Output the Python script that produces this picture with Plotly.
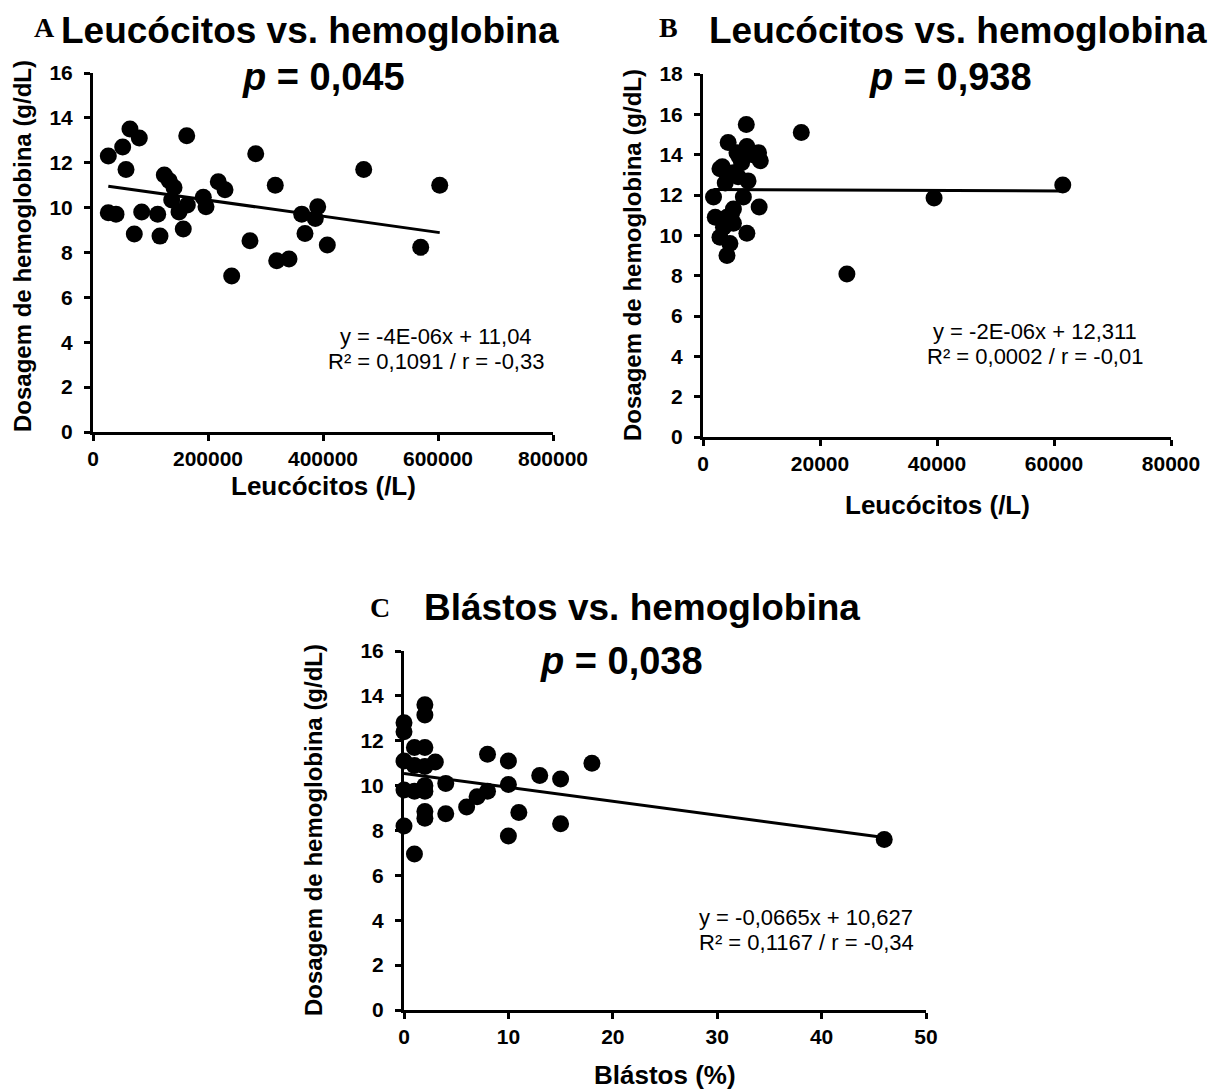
import numpy as np
import plotly.graph_objects as go

W, H = 1224, 1090          # reference picture size
OFF = 8                    # page body margin in the browser
FW, FH = W - OFF, H - OFF  # figure size so that it ends at the window edge

# ---------------- data ----------------
a_leuco = [26600, 64300, 80500, 51600, 57400, 163000, 283000, 124000, 132700, 140900,
           217900, 229600, 317000, 470800, 603000, 26600, 40000, 84700, 112500, 71800,
           116500, 157000, 136900, 149600, 164000, 191800, 196500, 363000, 390800, 386600,
           368700, 273000, 407500, 319500, 340900, 241200, 569900]
a_hb = [12.3, 13.5, 13.1, 12.7, 11.7, 13.2, 12.4, 11.45, 11.2, 10.9,
        11.15, 10.8, 11.0, 11.7, 11.0, 9.77, 9.71, 9.8, 9.7, 8.82,
        8.73, 9.05, 10.34, 9.8, 10.12, 10.46, 10.04, 9.71, 10.04, 9.52,
        8.85, 8.52, 8.33, 7.63, 7.71, 6.95, 8.23]

b_leuco = [7400, 4300, 7500, 9500, 9800, 5800, 6600, 2900, 5200, 3800,
           7700, 1800, 6900, 5200, 9600, 2100, 4100, 5200, 7500, 2900,
           4600, 4100, 8500, 6200, 3300, 6000, 4800, 3500,
           16800, 24600, 39500, 61500]
b_hb = [15.5, 14.6, 14.4, 14.1, 13.7, 14.1, 13.6, 13.3, 13.1, 12.6,
        12.7, 11.9, 11.9, 11.3, 11.4, 10.9, 10.9, 10.6, 10.1, 9.9,
        9.6, 9.0, 14.0, 13.9, 13.4, 12.9, 11.0, 10.4,
        15.1, 8.08, 11.85, 12.5]

c_blastos = [2, 2, 0, 0, 1, 2, 0, 1, 2, 3,
             4, 0, 1, 2, 2, 2, 2, 4, 6, 0,
             1, 8, 10, 13, 15, 18, 10, 8, 7, 11,
             15, 10, 46]
c_hb = [13.6, 13.15, 12.8, 12.4, 11.7, 11.7, 11.1, 10.9, 10.85, 11.05,
        10.1, 9.8, 9.75, 10.0, 9.75, 8.85, 8.55, 8.75, 9.05, 8.2,
        6.95, 11.4, 11.1, 10.45, 10.3, 11.0, 10.05, 9.75, 9.5, 8.8,
        8.3, 7.75, 7.6]

titles = ["Leucócitos vs. hemoglobina", "Leucócitos vs. hemoglobina", "Blástos vs. hemoglobina"]
letters = ["A", "B", "C"]
p_texts = ["0,045", "0,938", "0,038"]
eq_line1 = ["y = -4E-06x + 11,04", "y = -2E-06x + 12,311", "y = -0,0665x + 10,627"]
eq_line2 = ["R² = 0,1091 / r = -0,33", "R² = 0,0002 / r = -0,01", "R² = 0,1167 / r = -0,34"]
x_titles = ["Leucócitos (/L)", "Leucócitos (/L)", "Blástos (%)"]
y_title = "Dosagem de hemoglobina (g/dL)"

a_xticks = [0, 200000, 400000, 600000, 800000]
b_xticks = [0, 20000, 40000, 60000, 80000]
c_xticks = [0, 10, 20, 30, 40, 50]
a_yticks = [0, 2, 4, 6, 8, 10, 12, 14, 16]
b_yticks = [0, 2, 4, 6, 8, 10, 12, 14, 16, 18]
c_yticks = [0, 2, 4, 6, 8, 10, 12, 14, 16]

# ---------------- layout helpers ----------------
def px(x):
    return (x - OFF) / FW

def py(y):
    return 1 - (y - OFF) / FH

SANS = "Liberation Sans"
SERIF = "Liberation Serif"

fig = go.Figure()

panels = [
    dict(x=a_leuco, y=a_hb, xt=a_xticks, yt=a_yticks, xdom=(93, 553), ydom=(432, 73),
         xa="x", ya="y"),
    dict(x=b_leuco, y=b_hb, xt=b_xticks, yt=b_yticks, xdom=(703, 1171), ydom=(437, 74),
         xa="x2", ya="y2"),
    dict(x=c_blastos, y=c_hb, xt=c_xticks, yt=c_yticks, xdom=(404, 926), ydom=(1010, 651),
         xa="x3", ya="y3"),
]

for i, p in enumerate(panels):
    xs = np.array(p["x"], dtype=float)
    ys = np.array(p["y"], dtype=float)
    slope, intercept = np.polyfit(xs, ys, 1)
    lx = np.array([xs.min(), xs.max()])
    fig.add_trace(go.Scatter(x=lx, y=slope * lx + intercept, mode="lines",
                             line=dict(color="black", width=3),
                             xaxis=p["xa"], yaxis=p["ya"], showlegend=False,
                             hoverinfo="skip"))
    fig.add_trace(go.Scatter(x=xs, y=ys, mode="markers",
                             marker=dict(color="black", size=17),
                             xaxis=p["xa"], yaxis=p["ya"], showlegend=False,
                             cliponaxis=False))

axis_common = dict(showgrid=False, zeroline=False, showline=True, linecolor="black",
                   linewidth=3, ticks="outside", ticklen=6, tickwidth=2.5,
                   tickcolor="black",
                   tickfont=dict(family=SANS, size=21, color="black", weight="bold"))

layout_axes = {}
for i, p in enumerate(panels):
    suffix = "" if i == 0 else str(i + 1)
    layout_axes["xaxis" + suffix] = dict(
        axis_common,
        domain=[px(p["xdom"][0]), px(p["xdom"][1])],
        range=[p["xt"][0], p["xt"][-1]],
        tickmode="array", tickvals=p["xt"], ticktext=[str(v) for v in p["xt"]],
        anchor="y" + suffix, automargin=False,
    )
    layout_axes["yaxis" + suffix] = dict(
        axis_common,
        domain=[py(p["ydom"][0]), py(p["ydom"][1])],
        range=[p["yt"][0], p["yt"][-1]],
        tickmode="array", tickvals=p["yt"], ticktext=[str(v) for v in p["yt"]],
        anchor="x" + suffix, automargin=False, ticklabelstandoff=7,
    )

annotations = []

def ann(text, x, y, size, family=SANS, bold=True, angle=0, yanchor="middle"):
    annotations.append(dict(
        text=text, x=px(x), y=py(y), xref="paper", yref="paper",
        showarrow=False, xanchor="center", yanchor=yanchor, textangle=angle,
        font=dict(family=family, size=size, color="black",
                  weight="bold" if bold else "normal"),
    ))

title_pos = [(310, 8), (958, 8), (642, 607)]
letter_pos = [(44, 27), (668, 27), (380, 607)]
p_pos = [(323, 77), (950, 77), (621, 661)]
eq_pos = [(436, 336, 361), (1035, 331, 356), (806, 917, 942)]
xt_pos = [(323, 486), (937, 505), (665, 1075)]
yt_pos = [(22, 246), (632, 255), (313, 830)]

for i in range(3):
    ann(letters[i], *letter_pos[i], 28, family=SERIF)
    if i < 2:
        ann(titles[i], *title_pos[i], 37, yanchor="top")
    else:
        ann(titles[i], *title_pos[i], 37)
    ann("<i>p</i> = " + p_texts[i], *p_pos[i], 38)
    ann(eq_line1[i], eq_pos[i][0], eq_pos[i][1], 22, bold=False)
    ann(eq_line2[i], eq_pos[i][0], eq_pos[i][2], 22, bold=False)
    ann(x_titles[i], *xt_pos[i], 26)
    ann(y_title, *yt_pos[i], 24, angle=-90)

fig.update_layout(
    width=FW, height=FH,
    margin=dict(l=0, r=0, t=0, b=0, pad=0, autoexpand=False),
    paper_bgcolor="white", plot_bgcolor="white",
    annotations=annotations,
    **layout_axes,
)

fig.write_html("out.html")
